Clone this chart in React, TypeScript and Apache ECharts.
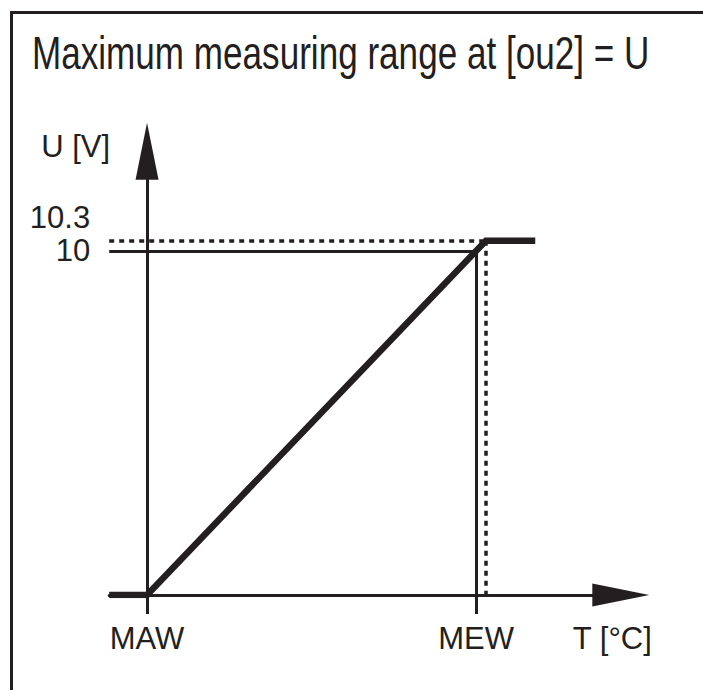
import React, { useEffect, useRef } from "react";
import * as echarts from "echarts";

// ---- data (temperature as % of measuring span: MAW = 0, MEW = 100) ----
const titleText = "Maximum measuring range at [ou2] = U";
const xName = "T [°C]";
const yName = "U [V]";
const tempPct = [-11.5, 0, 103, 118];
const outputV = [0, 0, 10.3, 10.3];
const xTickValues = [0, 100];
const xTickLabels = ["MAW", "MEW"];
const yNominalTicks = [10];
const yNominalLabels = ["10"];
const yLimitTicks = [10.3];
const yLimitLabels = ["10.3"];
const mewPct = 100;
const nominalV = 10;
const limitPct = 103;
const limitV = 10.3;
const xMin = -11.5;
const xMax = 144;
const yMax = 12.9;

const ink = "#231f20";
const font = "'Liberation Sans', Arial, Helvetica, sans-serif";
const labelSize = 31;

export default function App() {
  const ref = useRef<HTMLDivElement>(null);

  useEffect(() => {
    if (!ref.current) return;
    const chart = echarts.init(ref.current, null, { renderer: "svg" });
    const seriesData = tempPct.map((t, i) => [t, outputV[i]]);
    const yLabelBase = {
      show: true,
      margin: 19,
      align: "right",
      fontFamily: font,
      fontSize: labelSize,
      color: ink,
      hideOverlap: false,
      showMinLabel: true,
      showMaxLabel: true,
    };
    const option: any = {
      animation: false,
      backgroundColor: "#ffffff",
      grid: {
        left: 109.2,
        right: 82.2,
        top: 151.2,
        bottom: 95,
        containLabel: false,
        outerBoundsMode: "none",
      },
      xAxis: {
        type: "value",
        min: xMin,
        max: xMax,
        splitLine: { show: false },
        axisLine: {
          show: true,
          onZero: true,
          symbol: ["none", "triangle"],
          symbolSize: [23, 57],
          lineStyle: { color: ink, width: 3 },
        },
        axisTick: {
          show: true,
          customValues: xTickValues,
          length: 19,
          inside: false,
          lineStyle: { color: ink, width: 3 },
        },
        axisLabel: {
          show: true,
          customValues: xTickValues,
          formatter: (v: number) => xTickLabels[xTickValues.indexOf(v)] ?? "",
          margin: 27.5,
          fontFamily: font,
          fontSize: labelSize,
          color: ink,
          hideOverlap: false,
          showMinLabel: true,
          showMaxLabel: true,
        },
        name: xName,
        nameLocation: "end",
        nameGap: 31,
        nameMoveOverlap: false,
        nameTextStyle: {
          fontFamily: font,
          fontSize: labelSize,
          color: ink,
          align: "right",
          verticalAlign: "top",
          padding: [27.5, 0, 0, 0],
        },
      },
      yAxis: [
        {
          type: "value",
          position: "left",
          min: 0,
          max: yMax,
          splitLine: { show: false },
          axisLine: {
            show: true,
            onZero: true,
            symbol: ["none", "triangle"],
            symbolSize: [23, 57],
            lineStyle: { color: ink, width: 3 },
          },
          axisTick: { show: false },
          axisLabel: {
            ...yLabelBase,
            customValues: yNominalTicks,
            formatter: (v: number) => yNominalLabels[yNominalTicks.indexOf(v)] ?? "",
            verticalAlign: "middle",
            padding: [6, 0, 0, 0],
          },
          name: yName,
          nameLocation: "end",
          nameGap: 5,
          nameMoveOverlap: false,
          nameTextStyle: {
            fontFamily: font,
            fontSize: labelSize,
            color: ink,
            align: "right",
            verticalAlign: "middle",
            padding: [0, 37, 0, 0],
          },
        },
        {
          type: "value",
          position: "left",
          min: 0,
          max: yMax,
          splitLine: { show: false },
          axisLine: { show: false, onZero: false },
          axisTick: { show: false },
          axisLabel: {
            ...yLabelBase,
            customValues: yLimitTicks,
            formatter: (v: number) => yLimitLabels[yLimitTicks.indexOf(v)] ?? "",
            verticalAlign: "bottom",
            padding: [0, 0, 8, 0],
          },
        },
      ],
      graphic: [
        {
          type: "polyline",
          silent: true,
          shape: { points: [[11.5, 690], [11.5, 12.5], [703, 12.5]] },
          style: { stroke: ink, lineWidth: 3, fill: null },
        },
        {
          type: "text",
          silent: true,
          x: 32,
          y: 53,
          scaleX: 0.763,
          scaleY: 1,
          style: {
            text: titleText,
            fontFamily: font,
            fontSize: 46,
            fill: ink,
            align: "left",
            verticalAlign: "middle",
          },
        },
      ],
      series: [
        {
          type: "line",
          xAxisIndex: 0,
          yAxisIndex: 0,
          data: seriesData,
          symbol: "none",
          silent: true,
          lineStyle: { color: ink, width: 6.5, cap: "butt", join: "miter" },
          z: 5,
          markLine: {
            silent: true,
            symbol: ["none", "none"],
            label: { show: false },
            z: 4,
            data: [
              [
                { coord: [xMin, nominalV], lineStyle: { color: ink, width: 3, type: "solid" } },
                { coord: [mewPct, nominalV] },
              ],
              [
                { coord: [mewPct, nominalV], lineStyle: { color: ink, width: 3, type: "solid" } },
                { coord: [mewPct, 0] },
              ],
              [
                { coord: [xMin, limitV], lineStyle: { color: ink, width: 3.5, type: [5, 5] } },
                { coord: [limitPct, limitV] },
              ],
              [
                { coord: [limitPct, limitV], lineStyle: { color: ink, width: 3.5, type: [5, 5] } },
                { coord: [limitPct, 0] },
              ],
            ],
          },
        },
      ],
    };
    chart.setOption(option);
    return () => chart.dispose();
  }, []);

  return (
    <div
      ref={ref}
      style={{ position: "absolute", left: 0, top: 0, width: 703, height: 690, background: "#fff" }}
    />
  );
}
